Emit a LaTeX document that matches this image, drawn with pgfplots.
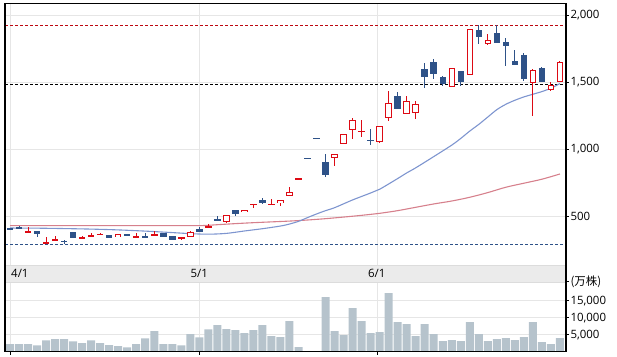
\documentclass[border=0pt]{standalone}
\usepackage{pgfplots}
\pgfplotsset{compat=1.18}
\usepackage{pgfplotstable}
\usepackage{fontspec}
\setmainfont{Open Sans}
\newfontfamily\cjk{Noto Sans CJK JP}
\definecolor{cred}{HTML}{DD0A14}
\definecolor{cblue}{HTML}{2E5288}
\definecolor{vbar}{HTML}{B6C3CC}
\definecolor{maone}{HTML}{7E95CF}
\definecolor{matwo}{HTML}{D6808C}
\definecolor{gridc}{HTML}{E6E6E6}
\definecolor{bandc}{HTML}{EBEBEB}
\definecolor{bandl}{HTML}{DCDCDC}

\pgfplotstableread{
i O H L C
2 376 415 376 386
4 296 341 290 301
5 316 351 316 331
8 326 351 326 341
9 346 376 346 356
10 358 376 358 368
12 343 363 343 363
14 338 371 338 353
16 356 386 356 366
19 331 341 321 341
20 341 388 341 377
22 413 438 413 425
24 458 505 450 505
26 527 548 527 545
27 585 590 562 590
29 585 630 585 590
30 595 617 577 617
31 652 717 652 679
32 771 781 771 781
36 931 961 876 961
37 1036 1112 1036 1110
38 1140 1232 1073 1215
39 1131 1217 1093 1135
41 1056 1170 1043 1170
42 1232 1434 1207 1342
44 1260 1397 1260 1357
45 1267 1362 1227 1335
49 1462 1604 1462 1604
51 1551 1895 1551 1895
53 1788 1858 1781 1813
58 1492 1596 1250 1589
60 1439 1502 1432 1477
61 1504 1659 1504 1649
}\upT

\pgfplotstableread{
i O H L C
0 410 413 394 396
1 420 425 400 400
3 386 386 346 368
6 312 321 293 310
7 378 378 338 338
11 356 356 338 338
13 363 363 348 348
15 351 371 338 338
17 371 371 346 346
18 348 348 323 323
21 403 418 383 383
23 475 497 466 466
25 545 545 502 517
28 620 635 587 600
33 931 931 931 931
34 1080 1080 1080 1080
35 904 963 789 809
40 1068 1150 1033 1064
43 1397 1427 1302 1302
46 1599 1646 1459 1541
47 1651 1676 1526 1564
48 1536 1546 1474 1487
50 1581 1584 1474 1504
52 1890 1925 1786 1840
54 1865 1925 1795 1795
55 1800 1830 1624 1773
56 1658 1741 1631 1631
57 1701 1718 1507 1524
59 1604 1611 1504 1504
}\downT

\pgfplotstableread{
i V
0 2250
1 2250
2 2250
3 1860
4 3330
5 3720
6 3720
7 3040
8 2550
9 3330
10 2550
11 1960
12 1670
13 1270
14 2250
15 3920
16 6080
17 2250
18 2250
19 1860
20 5200
21 4220
22 6570
23 7840
24 6670
25 6370
26 5490
27 6370
28 7840
29 4610
30 4310
31 9020
32 1370
33 40
34 200
35 16080
36 6080
37 4900
38 12840
39 9020
40 5490
41 5780
42 17250
43 8730
44 8140
45 4610
46 8140
47 5200
48 3140
49 3430
50 3140
51 8730
52 5200
53 3140
54 3720
55 4020
56 3430
57 4310
58 8730
59 2840
60 2250
61 4020
}\volT

\pgfplotsset{candle/.style={draw=none, mark=none, forget plot,
  error bars/.cd, y dir=both, y explicit, error mark=none}}

\begin{document}
\begin{tikzpicture}
\useasboundingbox (0,0) rectangle (617bp,-357bp);
\begin{axis}[
  at={(5bp,-3.3bp)}, anchor=north west, scale only axis,
  width=561bp, height=261.7bp,
  xmin=-0.555, xmax=61.67, ymin=133.7, ymax=2089.7,
  axis line style={draw=none},
  ytick={500,1000,1500,2000}, ytick pos=right, yticklabel pos=right,
  tick align=outside, major tick length=3bp,
  ytick style={black, line width=0.8bp},
  xtick={0,21,40.72}, xticklabels={}, xtick style={draw=none},
  grid=major, grid style={gridc, line width=0.9bp},
  yticklabel style={font=\fontsize{11.5}{13}\selectfont, xshift=-2bp},
  /pgf/number format/assume math mode=true,
  /pgf/number format/1000 sep={,},
]
% reference lines
\addplot[cred!85!black, line width=0.8bp, dash pattern=on 3bp off 2bp] coordinates {(-0.555,1925) (61.67,1925)};
\addplot[black, line width=0.8bp, dash pattern=on 3bp off 2bp] coordinates {(-0.555,1487) (61.67,1487)};
\addplot[cblue, line width=0.8bp, dash pattern=on 3bp off 2bp] coordinates {(-0.555,288) (61.67,288)};
% moving averages
\addplot[matwo, line width=1.1bp, smooth] coordinates {
(0,428) (5,428) (10,428) (15,428) (21,428) (23,435) (25,443) (27,450) (29,456) (31,462) (33,470) (35,480) (37,492) (39,505) (41,520) (43,540) (45,565) (47,590) (49,612) (51,640) (53,675) (55,715) (57,745) (59,775) (61,814)};
\addplot[maone, line width=1.1bp, smooth] coordinates {
(0,410) (3,409) (6,406) (9,402) (12,396) (15,387) (18,376) (20,368) (22,364) (24,370) (26,388) (28,405) (30,425) (31,440) (32,460) (33,488) (34,515) (35,540) (36,562) (38,620) (40,672) (41,700) (43,780) (44,822) (45,860) (47,944) (49,1030) (50,1080) (51,1135) (52,1185) (53,1240) (54,1295) (55,1335) (56,1365) (57,1390) (58,1410) (59,1430) (60,1455) (61,1490)};
% wicks
\addplot[candle, error bar style={line width=1bp, draw=cred, solid}]
  table[x=i, y expr={0.5*(\thisrow{H}+\thisrow{L})}, y error expr={0.5*(\thisrow{H}-\thisrow{L})}] {\upT};
\addplot[candle, error bar style={line width=1bp, draw=cblue, solid}]
  table[x=i, y expr={0.5*(\thisrow{H}+\thisrow{L})}, y error expr={0.5*(\thisrow{H}-\thisrow{L})}] {\downT};
% bodies
\addplot[candle, error bar style={line width=6.5bp, draw=cblue, solid}]
  table[x=i, y expr={0.5*(\thisrow{O}+\thisrow{C})}, y error expr={max(0.5*abs(\thisrow{O}-\thisrow{C}),5)}] {\downT};
\addplot[candle, error bar style={line width=6.5bp, draw=cred, solid}]
  table[x=i, y expr={0.5*(\thisrow{O}+\thisrow{C})}, y error expr={max(0.5*abs(\thisrow{O}-\thisrow{C}),5)}] {\upT};
\addplot[candle, error bar style={line width=4.5bp, draw=white, solid}]
  table[x=i, y expr={0.5*(\thisrow{O}+\thisrow{C})}, y error expr={max(0.5*abs(\thisrow{O}-\thisrow{C})-7.5,0)}] {\upT};
\end{axis}

\begin{axis}[
  at={(5bp,-281.7bp)}, anchor=north west, scale only axis,
  width=561bp, height=70bp,
  xmin=-0.555, xmax=61.67, ymin=0, ymax=20588,
  axis line style={draw=none},
  ybar, bar width=8bp,
  ytick={5000,10000,15000,20588},
  yticklabels={{5,000},{10,000},{15,000},{\cjk (万株)}},
  ytick pos=right, yticklabel pos=right,
  tick align=outside, major tick length=3bp,
  tick style={black, line width=0.8bp},
  xtick={0,21,40.72}, xticklabels={}, xtick pos=bottom,
  grid=major, grid style={gridc, line width=0.9bp},
  yticklabel style={font=\fontsize{11.5}{13}\selectfont, xshift=-2bp},
]
\addplot[fill=vbar, draw=none] table[x=i, y=V] {\volT};
\end{axis}

% date band
\fill[bandc] (5bp,-265bp) rectangle (566bp,-282.3bp);
\draw[bandl, line width=0.6bp] (5bp,-265bp) -- (566bp,-265bp);
\draw[bandl, line width=0.6bp] (5bp,-282.3bp) -- (566bp,-282.3bp);
\node[anchor=west, inner sep=0pt, font=\fontsize{11.5}{13}\selectfont] at (11bp,-273.7bp) {4/1};
\node[anchor=center, inner sep=0pt, font=\fontsize{11.5}{13}\selectfont] at (199.3bp,-273.7bp) {5/1};
\node[anchor=center, inner sep=0pt, font=\fontsize{11.5}{13}\selectfont] at (376.7bp,-273.7bp) {6/1};
% frame
\draw[black, line width=1.2bp] (5bp,-351.7bp) -- (5bp,-3.3bp) -- (566bp,-3.3bp) -- (566bp,-351.7bp) -- cycle;
\end{tikzpicture}
\end{document}
